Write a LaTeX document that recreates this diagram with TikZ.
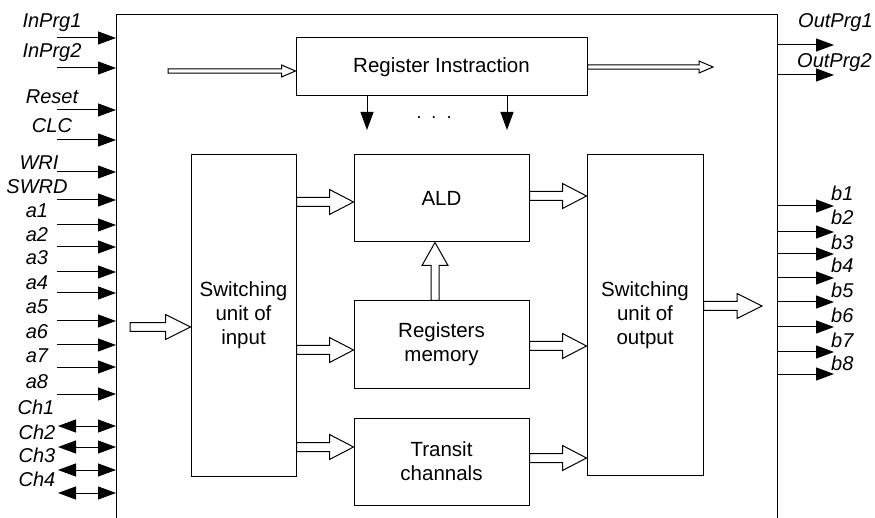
\documentclass[tikz,border=0pt]{standalone}
\usepackage{fontspec}
\setmainfont{Liberation Sans}
\usetikzlibrary{arrows.meta,calc}
\tikzset{
  blk/.style={draw, line width=1pt, inner sep=0pt, align=center,
    font=\fontsize{20.5}{24}\selectfont},
  lab/.style={inner sep=0pt, font=\fontsize{20}{24}\selectfont\itshape},
  sig/.style={line width=1pt, -{Triangle[length=18pt,width=13pt]}},
  bisig/.style={line width=1pt, {Triangle[length=18pt,width=13pt]}-{Triangle[length=18pt,width=13pt]}},
  hollow/.style={draw, fill=white, line width=1pt, line join=miter},
}
% rightward hollow arrow: #1 from, #2 to, #3 y (px), #4 shaft half, #5 head half, #6 head length
\newcommand\hra[6]{%
  \draw[hollow] let \p1=(#1), \p2=(#2), \p3=(0,#3) in
    (\x1,\y3+#4) -- (\x2-#6,\y3+#4) -- (\x2-#6,\y3+#5) -- (\x2,\y3)
    -- (\x2-#6,\y3-#5) -- (\x2-#6,\y3-#4) -- (\x1,\y3-#4) -- cycle;}
\begin{document}
\begin{tikzpicture}[x=1pt,y=-1pt]
\useasboundingbox (0,0) rectangle (875,518);
% outer frame
\coordinate (obl) at (116,518); \coordinate (otl) at (116,15);
\coordinate (otr) at (777,15);  \coordinate (obr) at (777,518);
\draw[line width=1pt] (obl) -- (otl) -- (otr) -- (obr);

% blocks
\node[blk, minimum width=291pt, minimum height=58pt] (ri) at (441.5,67) {Register Instraction};
\node[blk, minimum width=105pt, minimum height=321pt] (insw) at (243.5,315.5) {Switching\\unit of\\input};
\node[blk, minimum width=175pt, minimum height=87pt] (ald) at (441.5,198.5) {ALD};
\node[blk, minimum width=175pt, minimum height=87pt] (reg) at (441.5,344.5) {Registers\\memory};
\node[blk, minimum width=175pt, minimum height=87pt] (tr) at (441.5,461.5) {Transit\\channals};
\node[blk, minimum width=116pt, minimum height=320pt] (outsw) at (645,315) {Switching\\unit of\\output};

% instruction register arrows
\coordinate (riin) at (168,71);
\coordinate (riout) at (713,67);
\hra{riin}{ri.west}{71}{2.2pt}{6pt}{14pt}
\hra{ri.east}{riout}{67}{2.2pt}{6pt}{14pt}
\coordinate (d1) at (367,130);
\coordinate (d2) at (507,130);
\draw[sig] (ri.south -| d1) -- (d1);
\draw[sig] (ri.south -| d2) -- (d2);
\node[anchor=base, inner sep=0pt, font=\fontsize{18}{24}\selectfont] (dots) at (434,119) {.\ \ .\ \ .};

% wide data arrows
\coordinate (swin) at (130,327);
\coordinate (swout) at (762,306);
\hra{swin}{insw.west}{327}{4.3pt}{12.5pt}{25pt}
\hra{insw.east}{ald.west}{202}{4.5pt}{12.5pt}{24pt}
\hra{insw.east}{reg.west}{350}{4.5pt}{12.5pt}{24pt}
\hra{insw.east}{tr.west}{447}{4.5pt}{12.5pt}{24pt}
\hra{ald.east}{outsw.west}{196}{4.5pt}{12.5pt}{24pt}
\hra{reg.east}{outsw.west}{346}{4.5pt}{12.5pt}{24pt}
\hra{tr.east}{outsw.west}{458}{4.5pt}{12.5pt}{24pt}
\hra{outsw.east}{swout}{306}{4.5pt}{12.5pt}{25pt}
% upward hollow arrow registers -> ALD
\draw[hollow] let \p1=(reg.north), \p2=(ald.south), \p3=(435,0) in
  (\x3-4pt,\y1) -- (\x3-4pt,\y2-23pt) -- (\x3-13pt,\y2-23pt) -- (\x3,\y2)
  -- (\x3+13pt,\y2-23pt) -- (\x3+4pt,\y2-23pt) -- (\x3+4pt,\y1) -- cycle;

% left inputs
\foreach \i/\lx/\ly/\ay/\t in {
  1/52/23/38/InPrg1, 2/52/53/68/InPrg2, 3/52/97/110/Reset, 4/52/126/140/CLC,
  5/39/163/172/WRI, 6/37/187/200/SWRD, 7/37/211/225/a1, 8/37/235/247/a2,
  9/37/258/272/a3, 10/37/283/293/a4, 11/37/307/321/a5, 12/37/332/345/a6,
  13/37/356/367/a7, 14/37/382/394/a8}{
  \node[lab] (il\i) at (\lx,\ly) {\t};
  \coordinate (is\i) at (57,\ay);
  \coordinate (ie\i) at (116,\ay);
  \draw[sig] (is\i) -- (ie\i);
}
\foreach \i/\lx/\ly/\ay/\t in {
  1/36/407/426/Ch1, 2/37/432/447/Ch2, 3/37/455/470/Ch3, 4/37/479/493/Ch4}{
  \node[lab] (cl\i) at (\lx,\ly) {\t};
  \coordinate (cs\i) at (58,\ay);
  \coordinate (ce\i) at (116,\ay);
  \draw[bisig] (cs\i) -- (ce\i);
}

% right outputs
\node[lab, anchor=west] (op1) at (798,23) {OutPrg1};
\node[lab, anchor=west] (op2) at (797,63) {OutPrg2};
\foreach \i/\ay in {1/45, 2/75}{
  \coordinate (os\i) at (777,\ay);
  \coordinate (oe\i) at (834,\ay);
  \draw[sig] (os\i) -- (oe\i);
}
\foreach \i/\ly/\ay in {1/193/206, 2/217/232, 3/242/254, 4/265/278,
  5/290/302, 6/315/327, 7/340/352, 8/363/374}{
  \node[lab, anchor=west] (bl\i) at (831,\ly) {b\i};
  \coordinate (bs\i) at (777,\ay);
  \coordinate (be\i) at (834,\ay);
  \draw[sig] (bs\i) -- (be\i);
}
\end{tikzpicture}
\end{document}
